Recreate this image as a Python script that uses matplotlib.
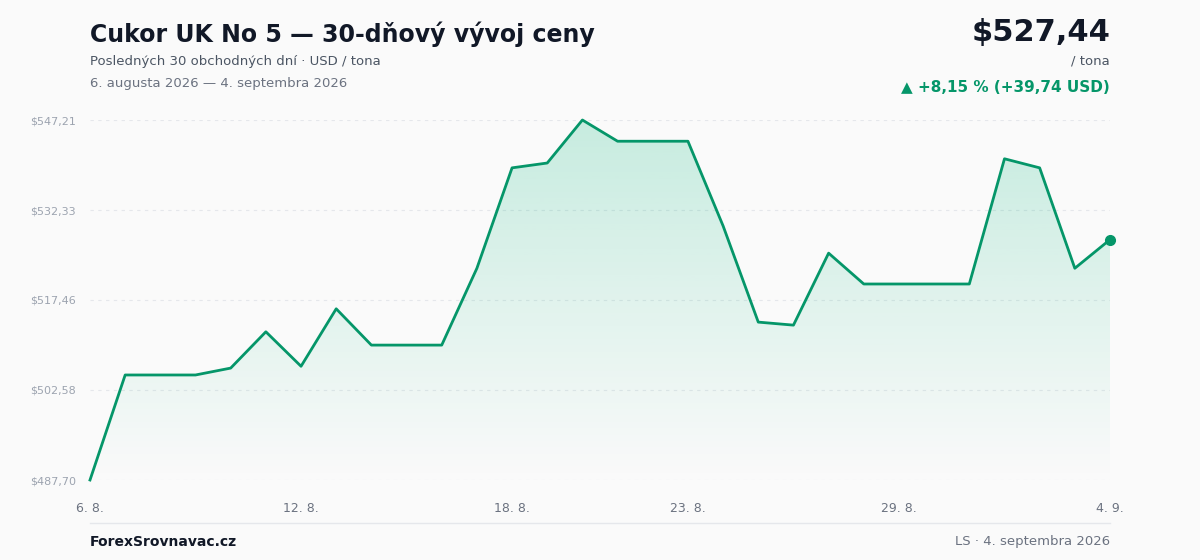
import matplotlib
matplotlib.use("Agg")
import matplotlib.pyplot as plt
import numpy as np
from matplotlib.patches import Polygon

prices = [487.70, 505.06, 505.06, 505.06, 506.2, 512.2, 506.5, 516.0, 510.0, 510.0,
          510.0, 522.7, 539.3, 540.1, 547.21, 543.7, 543.7, 543.7, 529.7, 513.8,
          513.3, 525.2, 520.1, 520.1, 520.1, 520.1, 540.8, 539.3, 522.7, 527.44]
xtick_idx = [0, 6, 12, 17, 23, 29]
xtick_labels = ["6. 8.", "12. 8.", "18. 8.", "23. 8.", "29. 8.", "4. 9."]
ytick_vals = [487.70, 502.58, 517.46, 532.33, 547.21]
ytick_labels = ["$487,70", "$502,58", "$517,46", "$532,33", "$547,21"]

GREEN = "#059669"
BG = "#fafafa"
fig = plt.figure(figsize=(12, 5.6), dpi=100, facecolor=BG)
ax = fig.add_axes([90/1200, 1-480/560, 1020/1200, 360/560], facecolor=BG)
x = np.arange(len(prices))
ymin, ymax = 487.70, 547.21
ax.set_xlim(0, len(prices)-1)
ax.set_ylim(ymin, ymax)

# gradient fill
grad = np.linspace(0.22, 0.0, 256).reshape(-1, 1)
from matplotlib.colors import to_rgb
rgb = to_rgb("#10b981")
img = np.zeros((256, 1, 4)); img[..., :3] = rgb; img[..., 3] = grad
im = ax.imshow(img, extent=[0, len(prices)-1, ymin, ymax], aspect="auto", origin="upper", zorder=1)
poly = Polygon(np.column_stack([np.r_[x, x[-1], x[0]], np.r_[prices, ymin, ymin]]), closed=True,
               facecolor="none", edgecolor="none")
ax.add_patch(poly)
im.set_clip_path(poly)

ax.plot(x, prices, color=GREEN, lw=2, zorder=3, clip_on=False)
ax.plot(x[-1], prices[-1], "o", color=GREEN, ms=7, zorder=4, clip_on=False)

for v in ytick_vals:
    ax.axhline(v, color="#e5e7eb", lw=0.8, ls=(0, (3, 4)), zorder=0)
ax.set_yticks(ytick_vals)
ax.set_yticklabels(ytick_labels, fontsize=8, color="#9ca3af")
ax.set_xticks(xtick_idx)
ax.set_xticklabels(xtick_labels, fontsize=9, color="#6b7280")
ax.tick_params(length=0, axis="y", pad=-2)
ax.tick_params(length=0, axis="x", pad=16)
for lbl in ax.get_yticklabels():
    lbl.set_horizontalalignment("right")
ax.yaxis.set_tick_params(pad=10)
for s in ax.spines.values():
    s.set_visible(False)

fig.text(90/1200, 1-34/560, "Cukor UK No 5 — 30-dňový vývoj ceny", fontsize=17, fontweight="bold",
         color="#111827", va="center")
fig.text(90/1200, 1-61/560, "Posledných 30 obchodných dní · USD / tona", fontsize=9.5, color="#4b5563", va="center")
fig.text(90/1200, 1-83/560, "6. augusta 2026 — 4. septembra 2026", fontsize=9.5, color="#6b7280", va="center")
fig.text(1110/1200, 1-33/560, "$527,44", fontsize=22, fontweight="bold", color="#111827", va="center", ha="right")
fig.text(1110/1200, 1-61/560, "/ tona", fontsize=9.5, color="#4b5563", va="center", ha="right")
fig.text(1110/1200, 1-87/560, "▲ +8,15 % (+39,74 USD)", fontsize=11, fontweight="bold", color=GREEN, va="center", ha="right")
fig.add_artist(plt.Line2D([90/1200, 1110/1200], [1-523/560]*2, color="#e5e7eb", lw=1))
fig.text(90/1200, 1-542/560, "ForexSrovnavac.cz", fontsize=10, fontweight="bold", color="#111827", va="center")
fig.text(1110/1200, 1-542/560, "LS · 4. septembra 2026", fontsize=9.5, color="#6b7280", va="center", ha="right")

fig.savefig("out.png", dpi=100, facecolor=BG)
